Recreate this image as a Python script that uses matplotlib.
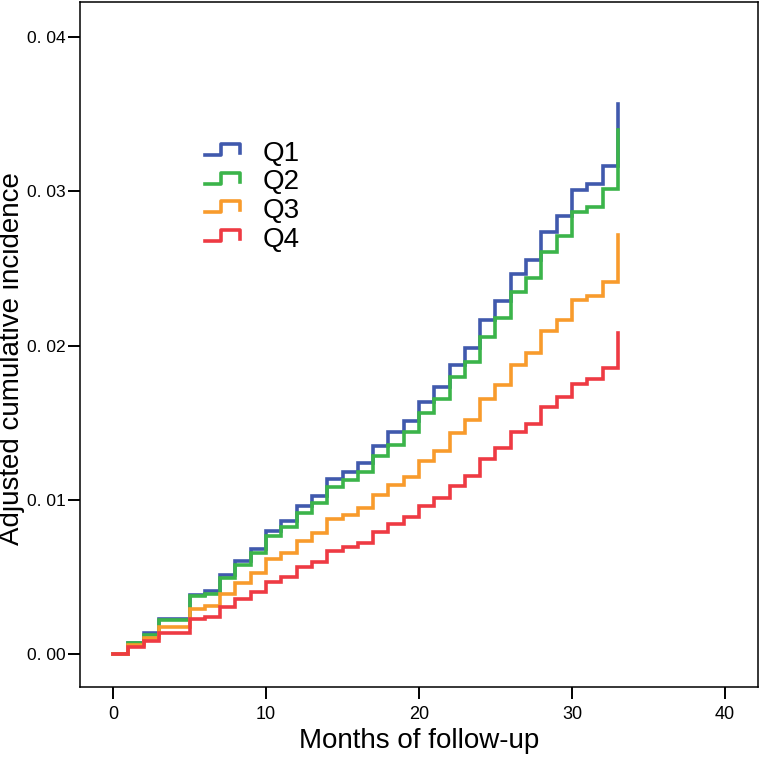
import matplotlib
matplotlib.use("Agg")
import matplotlib.pyplot as plt
import numpy as np
from matplotlib.legend_handler import HandlerBase
from matplotlib.lines import Line2D

# Months of follow-up (value at month i holds until month i+1)
months = list(range(0, 34))

# Adjusted cumulative incidence for each quartile
q1 = [0.0, 0.00073, 0.00134, 0.00227, 0.00227, 0.0038, 0.00408, 0.00511, 0.0060, 0.00678,
      0.0080, 0.00863, 0.00958, 0.01025, 0.01135, 0.01182, 0.01238, 0.01348, 0.01437, 0.01508,
      0.01635, 0.0173, 0.01875, 0.01985, 0.02166, 0.02287, 0.02464, 0.02557, 0.02734, 0.02841,
      0.0301, 0.03046, 0.03163, 0.03564]
q2 = [0.0, 0.00069, 0.00125, 0.0022, 0.0022, 0.00375, 0.00388, 0.0049, 0.00576, 0.00652,
      0.00768, 0.00824, 0.00915, 0.00979, 0.01083, 0.01126, 0.01182, 0.01286, 0.01353, 0.01439,
      0.01562, 0.0165, 0.01795, 0.01892, 0.02058, 0.02179, 0.02345, 0.02435, 0.02608, 0.02708,
      0.02867, 0.029, 0.03014, 0.03396]
q3 = [0.0, 0.00056, 0.00104, 0.00173, 0.00173, 0.00289, 0.00309, 0.0039, 0.00462, 0.00522,
      0.00613, 0.00652, 0.00733, 0.00785, 0.00874, 0.009, 0.00945, 0.01029, 0.01094, 0.0115,
      0.0125, 0.01316, 0.01433, 0.01515, 0.01655, 0.01741, 0.01873, 0.0195, 0.02093, 0.02168,
      0.02298, 0.02324, 0.02414, 0.02716]
q4 = [0.0, 0.00043, 0.00082, 0.00134, 0.00134, 0.00224, 0.00237, 0.00302, 0.00354, 0.00401,
      0.00466, 0.005, 0.00561, 0.00598, 0.00665, 0.00694, 0.00722, 0.00788, 0.00841, 0.00887,
      0.00958, 0.01012, 0.01092, 0.01156, 0.01265, 0.01338, 0.01441, 0.01493, 0.016, 0.01663,
      0.01752, 0.01785, 0.01855, 0.02082]

labels = ["Q1", "Q2", "Q3", "Q4"]
colors = ["#4059AD", "#3BB44A", "#F89B2C", "#EE3A43"]

xticks = [0, 10, 20, 30, 40]
yticks = [0.0, 0.01, 0.02, 0.03, 0.04]
ytick_labels = ["0. 00", "0. 01", "0. 02", "0. 03", "0. 04"]


class StepHandler(HandlerBase):
    # little step-shaped legend key
    def create_artists(self, legend, orig_handle, xdescent, ydescent,
                       width, height, fontsize, trans):
        xs = np.array([0.0, 0.45, 0.45, 1.0, 1.0]) * width - xdescent
        ys = np.array([0.3, 0.3, 0.85, 0.85, 0.4]) * height - ydescent
        line = Line2D(xs, ys, color=orig_handle.get_color(),
                      lw=orig_handle.get_linewidth(), transform=trans)
        return [line]


fig = plt.figure(figsize=(7.6, 7.67), dpi=100)
ax = fig.add_axes([80 / 760, 1 - 687 / 767, 678 / 760, 685 / 767])

lines = []
for vals, lab, col in zip([q1, q2, q3, q4], labels, colors):
    ln, = ax.plot(months, vals, drawstyle="steps-post", color=col, lw=2.6,
                  label=lab, solid_joinstyle="miter")
    lines.append(ln)

ax.set_xlim(-2.16, 42.16)
ax.set_ylim(-0.00214, 0.04227)

ax.set_xticks(xticks)
ax.set_xticklabels([str(t) for t in xticks], fontsize=13, family="Liberation Sans")
ax.set_yticks(yticks)
ax.set_yticklabels(ytick_labels, fontsize=12.5, family="Liberation Sans")
ax.tick_params(direction="out", length=8.5, width=1.4, color="black", pad=2)
ax.tick_params(axis="x", pad=5)
for sp in ax.spines.values():
    sp.set_linewidth(1.1)

ax.set_xlabel("Months of follow-up", fontsize=20, family="Liberation Sans", va="center")
ax.xaxis.set_label_coords(0.5, (687 - 741) / 685)
ax.set_ylabel("Adjusted cumulative incidence", fontsize=20, family="Liberation Sans", va="center")
ax.yaxis.set_label_coords((12 - 80) / 678, (687 - 359) / 685)

ax.legend(handles=lines, handler_map={Line2D: StepHandler()}, loc="upper left",
          bbox_to_anchor=((205 - 80) / 678, (687 - 141) / 685), frameon=False,
          prop={"family": "Liberation Sans", "size": 20}, borderpad=0, borderaxespad=0,
          handlelength=1.26, handletextpad=0.8, labelspacing=0.09)

fig.savefig("out.png", dpi=100)
